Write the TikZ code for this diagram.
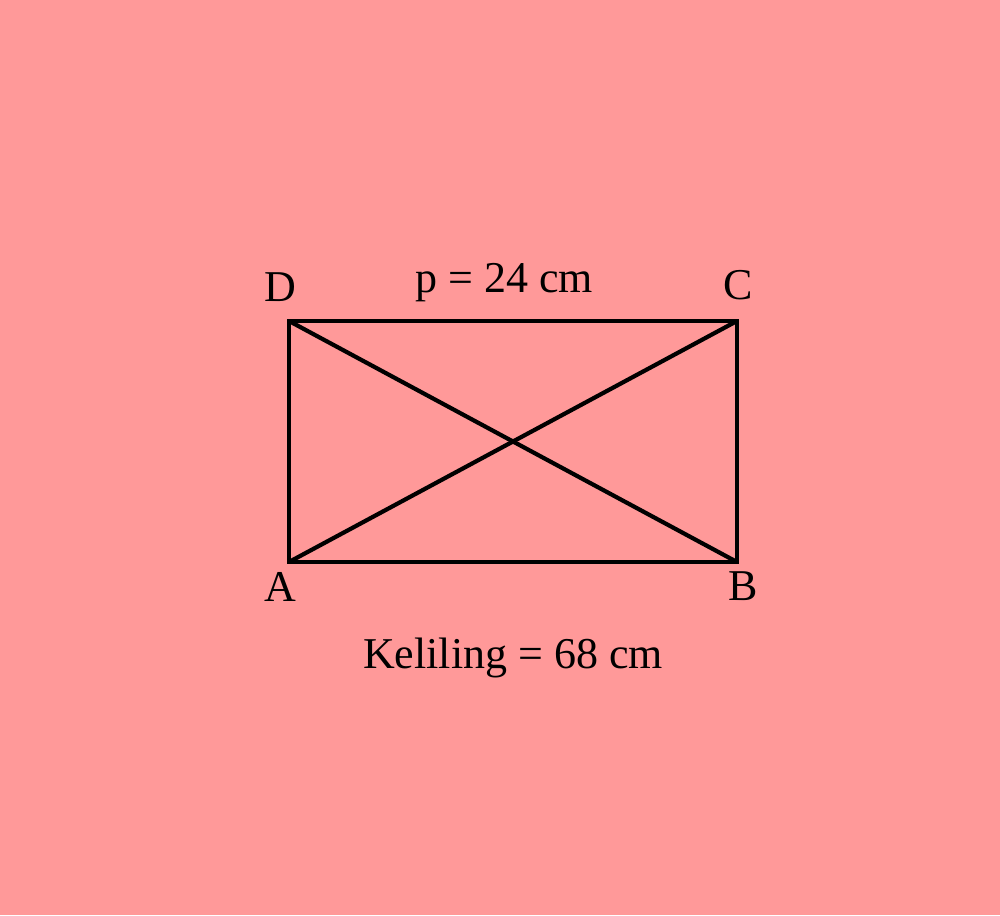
\documentclass[tikz,border=0pt]{standalone}
\usepackage{fontspec}
\setmainfont{Liberation Serif}
\definecolor{bg}{RGB}{255,153,153}
\begin{document}
\begin{tikzpicture}[x=1pt,y=-1pt,
  edge/.style={line width=4.2pt,line join=miter,line cap=butt},
  lbl/.style={anchor=base,inner sep=0pt,font=\fontsize{44}{50}\selectfont}]
\fill[bg] (0,0) rectangle (1000,915);
\useasboundingbox (0,0) rectangle (1000,915);
\coordinate (A) at (289,562);
\coordinate (B) at (737,562);
\coordinate (C) at (737,321);
\coordinate (D) at (289,321);
\draw[edge] (A) -- (C);
\draw[edge] (D) -- (B);
\draw[edge] (A) -- (B) -- (C) -- (D) -- cycle;
\node[lbl] (la) at (280,601) {A};
\node[lbl] (lb) at (743,600) {B};
\node[lbl] (lc) at (738,299) {C};
\node[lbl] (ld) at (280,301) {D};
\node[lbl] (p) at (504,292) {p = 24 cm};
\node[lbl] (k) at (513,668) {Keliling = 68 cm};
\end{tikzpicture}
\end{document}
